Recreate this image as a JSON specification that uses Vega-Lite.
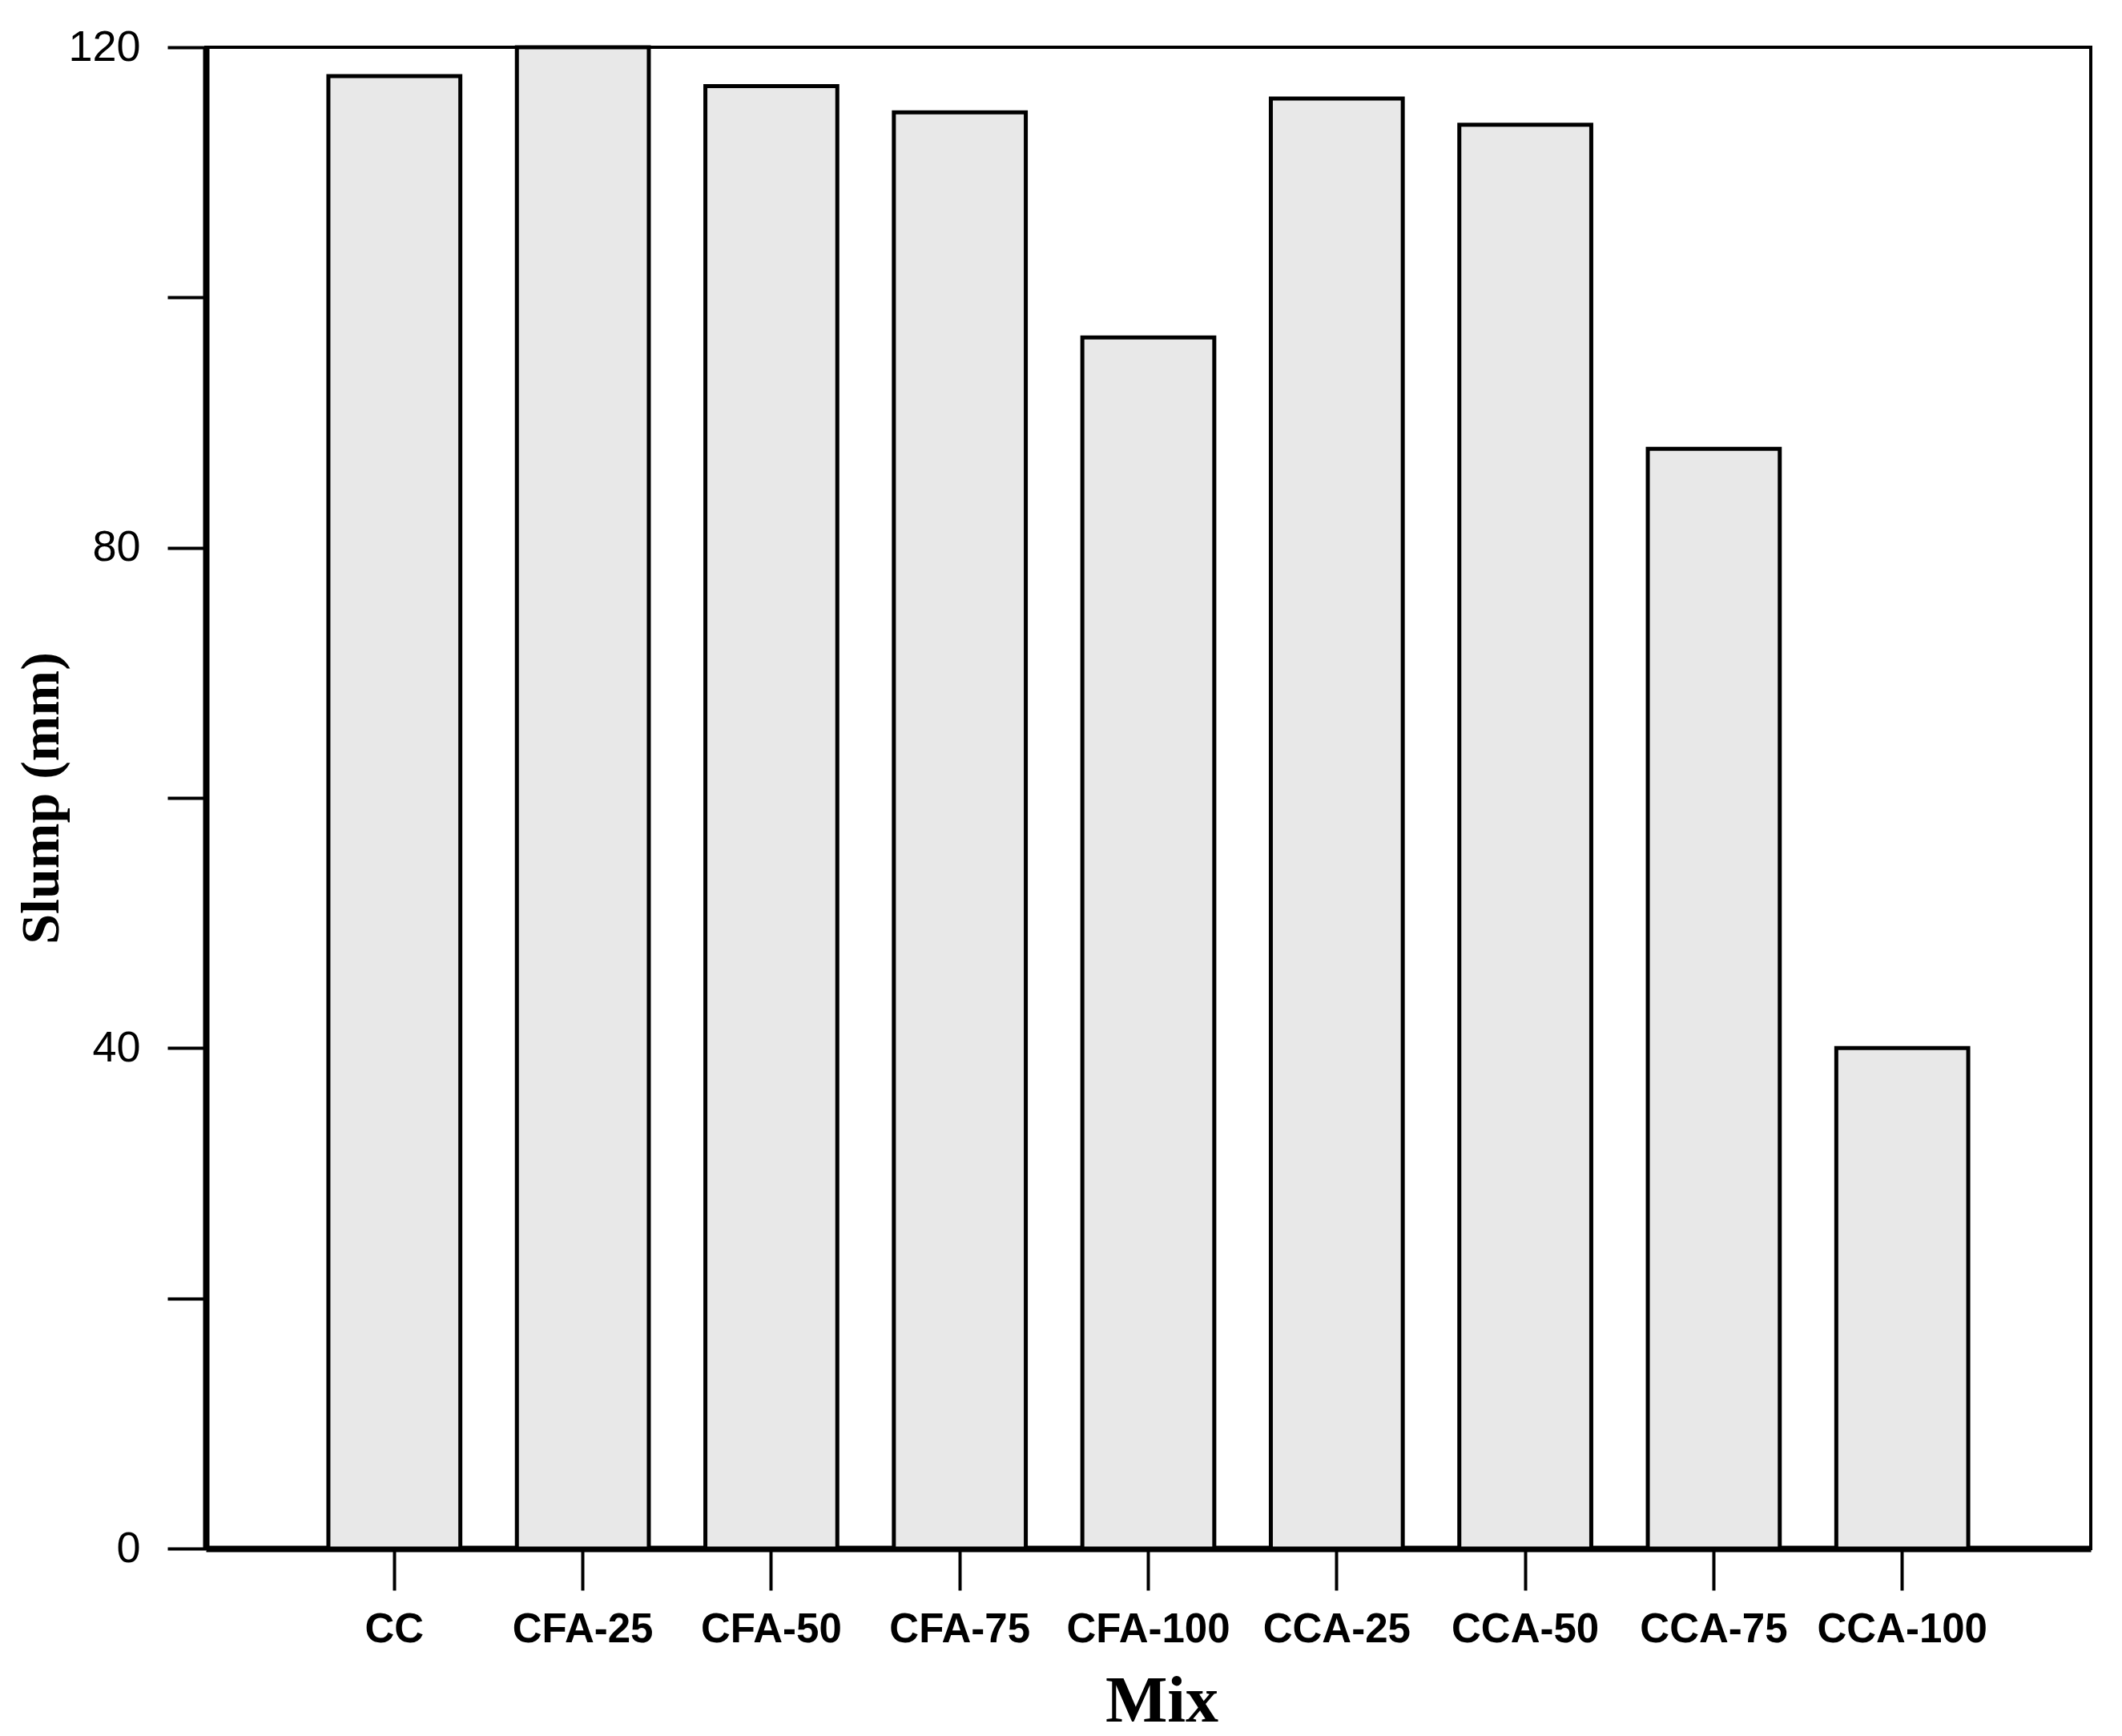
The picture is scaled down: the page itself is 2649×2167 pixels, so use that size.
{
  "$schema": "https://vega.github.io/schema/vega-lite/v6.json",
  "autosize": "none",
  "width": 2353,
  "height": 1874,
  "padding": {"left": 257, "top": 59, "right": 39, "bottom": 234},
  "background": "white",
  "config": {
    "view": {"stroke": "black", "strokeWidth": 4},
    "axis": {"grid": false}
  },
  "data": {
    "values": [
      {"Mix": "CC", "Slump": 117.7},
      {"Mix": "CFA-25", "Slump": 120},
      {"Mix": "CFA-50", "Slump": 116.9},
      {"Mix": "CFA-75", "Slump": 114.8},
      {"Mix": "CFA-100", "Slump": 96.8},
      {"Mix": "CCA-25", "Slump": 115.9},
      {"Mix": "CCA-50", "Slump": 113.8},
      {"Mix": "CCA-75", "Slump": 87.9},
      {"Mix": "CCA-100", "Slump": 40}
    ]
  },
  "mark": {"type": "bar", "fill": "#e8e8e8", "stroke": "black", "strokeWidth": 5},
  "encoding": {
    "x": {
      "field": "Mix",
      "type": "nominal",
      "sort": null,
      "scale": {"paddingInner": 0.3, "paddingOuter": 0.65},
      "axis": {
        "title": "Mix",
        "labelAngle": 0,
        "labelFont": "Liberation Sans",
        "labelFontWeight": "bold",
        "labelFontSize": 51,
        "labelColor": "black",
        "labelLimit": 0,
        "labelOverlap": false,
        "labelPadding": 24,
        "tickSize": 52,
        "tickWidth": 4,
        "tickColor": "black",
        "domainColor": "black",
        "domainWidth": 8,
        "titleFont": "Liberation Serif",
        "titleFontWeight": "bold",
        "titleFontSize": 82,
        "titleColor": "black",
        "titleX": 1193,
        "titleY": 190,
        "titleBaseline": "middle"
      }
    },
    "y": {
      "field": "Slump",
      "type": "quantitative",
      "scale": {"domain": [0, 120], "nice": false},
      "axis": {
        "title": "Slump (mm)",
        "values": [0, 20, 40, 60, 80, 100, 120],
        "labelExpr": "datum.value % 40 == 0 ? datum.label : ''",
        "labelFont": "Liberation Sans",
        "labelFontSize": 54,
        "labelColor": "black",
        "labelPadding": 34,
        "tickSize": 48,
        "tickWidth": 4,
        "tickColor": "black",
        "domainColor": "black",
        "domainWidth": 8,
        "titleFont": "Liberation Serif",
        "titleFontWeight": "bold",
        "titleFontSize": 68,
        "titleColor": "black",
        "titleX": -205,
        "titleBaseline": "middle"
      }
    }
  }
}
